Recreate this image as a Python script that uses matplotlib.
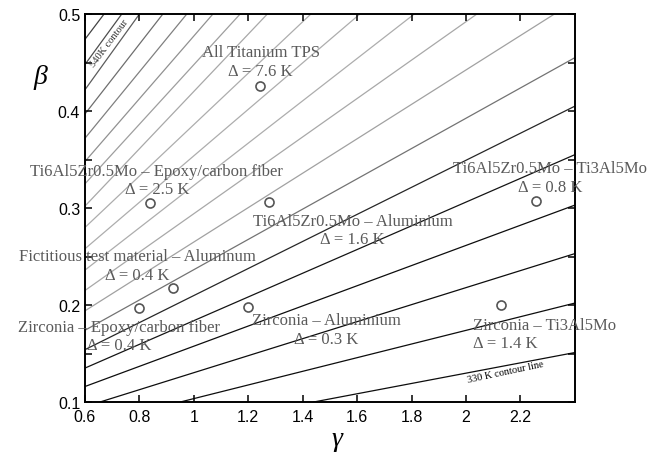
import matplotlib
matplotlib.use('Agg')

import matplotlib.pyplot as plt
from matplotlib.ticker import MultipleLocator

# contour lines from 330 K (bottom right) up to 540 K (top left)
# each line read as where it enters and leaves the frame
start_gamma = [1.44, 0.95, 0.655] + [0.6] * 17
start_beta = [0.1, 0.1, 0.1, 0.116, 0.135, 0.154, 0.174, 0.194, 0.215, 0.236,
              0.258, 0.28, 0.302, 0.325, 0.348, 0.372, 0.397, 0.422, 0.448,
              0.474]
end_gamma = [2.4] * 7 + [2.325, 2.04, 1.81, 1.61, 1.43, 1.27, 1.17, 1.07,
                         0.974, 0.886, 0.80, 0.735, 0.67]
end_beta = [0.151, 0.202, 0.253, 0.303, 0.355, 0.405, 0.455] + [0.5] * 13
line_gray = ['0.05', '0.05', '0.05', '0.05', '0.08', '0.15', '0.45', '0.63',
             '0.66', '0.68', '0.68', '0.68', '0.66', '0.62', '0.57', '0.5',
             '0.43', '0.36', '0.3', '0.26']

# material pairs
pair_names = ['All Titanium TPS', 'Ti6Al5Zr0.5Mo \u2013 Epoxy/carbon fiber',
              'Ti6Al5Zr0.5Mo \u2013 Aluminium', 'Ti6Al5Zr0.5Mo \u2013 Ti3Al5Mo',
              'Fictitious test material \u2013 Aluminum',
              'Zirconia \u2013 Epoxy/carbon fiber', 'Zirconia \u2013 Aluminium',
              'Zirconia \u2013 Ti3Al5Mo']
pair_gamma = [1.242, 0.839, 1.275, 2.259, 0.923, 0.798, 1.198, 2.127]
pair_beta = [0.426, 0.305, 0.306, 0.307, 0.2175, 0.197, 0.198, 0.200]
pair_delta = ['7.6', '2.5', '1.6', '0.8', '0.4', '0.4', '0.3', '1.4']
label_gamma = [1.246, 0.864, 1.583, 2.310, 0.791, 0.725, 1.488, 2.024]
label_beta = [0.451, 0.329, 0.2773, 0.3315, 0.2407, 0.168, 0.1747, 0.1701]
label_align = ['center'] * 7 + ['left']

fig = plt.figure(figsize=(6.63, 4.56), dpi=100)
ax = fig.add_axes([0.1282, 0.1162, 0.867 - 0.1282, 0.967 - 0.1162])

for g0, b0, g1, b1, c in zip(start_gamma, start_beta, end_gamma, end_beta, line_gray):
    ax.plot([g0, g1], [b0, b1], color=c, lw=0.9, zorder=1)

ax.plot(pair_gamma, pair_beta, 'o', ms=6.5, mfc='white', mec='#555555',
        mew=1.2, zorder=3)

serif = 'Liberation Serif'
for name, d, g, b, ha in zip(pair_names, pair_delta, label_gamma, label_beta, label_align):
    ax.text(g, b, f'{name}\n\u0394 = {d} K', ha=ha, va='center',
            multialignment=ha, family=serif, fontsize=12, color='#5a5a5a',
            linespacing=1.2, zorder=4)

ax.text(0.69, 0.471, '540K contour', rotation=53, ha='center', va='center',
        family=serif, fontsize=7.5, color='#333333', zorder=4)
ax.text(2.145, 0.131, '330 K contour line', rotation=12, ha='center',
        va='center', family=serif, fontsize=7.5, color='black', zorder=4)

ax.set_xlim(0.6, 2.4)
ax.set_ylim(0.1, 0.5)
ax.set_xticks([0.6, 0.8, 1, 1.2, 1.4, 1.6, 1.8, 2, 2.2])
ax.set_xticklabels(['0.6', '0.8', '1', '1.2', '1.4', '1.6', '1.8', '2', '2.2'])
ax.set_yticks([0.1, 0.2, 0.3, 0.4, 0.5])
ax.yaxis.set_minor_locator(MultipleLocator(0.05))
ax.tick_params(which='both', direction='in', top=True, right=True,
               labelsize=11.5, length=5, width=1.1)
ax.tick_params(axis='x', pad=5)
for tl in ax.get_xticklabels() + ax.get_yticklabels():
    tl.set_family('Liberation Sans')
for s in ax.spines.values():
    s.set_linewidth(1.4)

fig.text(40 / 663, 1 - 78 / 456, '\u03b2', family=serif, style='italic',
         fontsize=20, ha='center', va='center')
fig.text(337 / 663, 1 - 440 / 456, '\u03b3', family=serif, style='italic',
         fontsize=20, ha='center', va='center')

fig.savefig('out.png', dpi=100)
